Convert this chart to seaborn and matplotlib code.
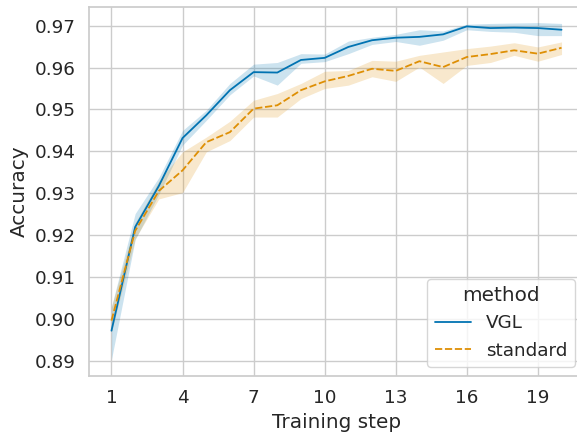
import numpy as np
import pandas as pd
import matplotlib
matplotlib.use("Agg")
import matplotlib.pyplot as plt
import seaborn as sns

steps = list(range(1, 21))

vgl_mean = [0.8973, 0.9220, 0.9318, 0.9432, 0.9486, 0.9546, 0.9589, 0.9588, 0.9618, 0.9623,
            0.9649, 0.9665, 0.9671, 0.9673, 0.9679, 0.9698, 0.9694, 0.9695, 0.9694, 0.9690]
vgl_low = [0.8905, 0.9190, 0.9298, 0.9415, 0.9474, 0.9535, 0.9580, 0.9558, 0.9610, 0.9614,
           0.9633, 0.9655, 0.9662, 0.9653, 0.9665, 0.9690, 0.9686, 0.9684, 0.9676, 0.9676]
vgl_high = [0.9030, 0.9252, 0.9338, 0.9450, 0.9498, 0.9562, 0.9608, 0.9612, 0.9633, 0.9632,
            0.9663, 0.9672, 0.9679, 0.9690, 0.9687, 0.9703, 0.9705, 0.9706, 0.9707, 0.9705]

std_mean = [0.8997, 0.9211, 0.9306, 0.9355, 0.9422, 0.9446, 0.9502, 0.9510, 0.9546, 0.9567,
            0.9580, 0.9597, 0.9592, 0.9615, 0.9601, 0.9625, 0.9632, 0.9641, 0.9633, 0.9647]
std_low = [0.8970, 0.9192, 0.9287, 0.9302, 0.9399, 0.9426, 0.9482, 0.9482, 0.9526, 0.9550,
           0.9558, 0.9578, 0.9567, 0.9601, 0.9562, 0.9605, 0.9612, 0.9629, 0.9615, 0.9631]
std_high = [0.9030, 0.9230, 0.9330, 0.9399, 0.9434, 0.9472, 0.9522, 0.9538, 0.9562, 0.9591,
            0.9593, 0.9617, 0.9615, 0.9629, 0.9637, 0.9645, 0.9651, 0.9659, 0.9649, 0.9661]

methods = ["VGL", "standard"]
x_ticks = list(range(1, 21, 3))

df = pd.concat([
    pd.DataFrame({"step": steps, "method": "VGL", "accuracy": vgl_mean,
                  "low": vgl_low, "high": vgl_high}),
    pd.DataFrame({"step": steps, "method": "standard", "accuracy": std_mean,
                  "low": std_low, "high": std_high}),
], ignore_index=True)

sns.set_theme(style="whitegrid", palette="colorblind", font_scale=1.2)

fig = plt.figure(figsize=(5.77, 4.32), dpi=100)
ax = fig.add_axes([0.1542, 0.1296, 0.858, 0.855])

palette = sns.color_palette("colorblind", 2)
sns.lineplot(data=df, x="step", y="accuracy", hue="method", style="method",
             hue_order=methods, style_order=methods, errorbar=None, ax=ax,
             linewidth=1.3)

for color, m in zip(palette, methods):
    sub = df[df["method"] == m]
    ax.fill_between(sub["step"], sub["low"], sub["high"], color=color,
                    alpha=0.2, linewidth=0)

ax.set_xticks(x_ticks)
ax.set_ylim(0.8865, 0.9745)
ax.set_xlabel("Training step")
ax.set_ylabel("Accuracy")
sns.move_legend(ax, "lower right", title="method")

fig.savefig("out.png", dpi=100)
